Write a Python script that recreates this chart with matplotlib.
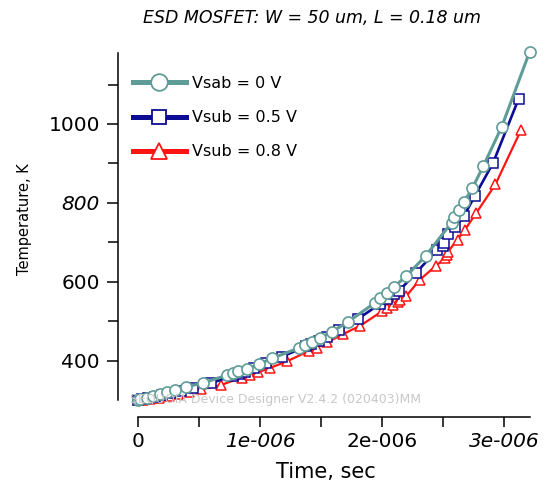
import matplotlib
matplotlib.use("Agg")
import matplotlib.pyplot as plt
from matplotlib.lines import Line2D
import numpy as np

# ---------------- data (time in microseconds, temperature in K) ----------------
t_vsab0 = [0.00, 0.02, 0.07, 0.12, 0.18, 0.24, 0.30, 0.39, 0.53, 0.73, 0.78, 0.82,
           0.89, 0.99, 1.10, 1.32, 1.37, 1.43, 1.49, 1.59, 1.72, 1.94, 1.98, 2.04,
           2.10, 2.20, 2.36, 2.57, 2.59, 2.63, 2.67, 2.74, 2.83, 2.98, 3.21]
T_vsab0 = [300, 302, 305, 310, 315, 320, 325, 333, 343, 363, 368, 373,
           378, 391, 406, 432, 439, 447, 457, 473, 498, 546, 559, 572,
           587, 615, 666, 750, 763, 781, 801, 837, 893, 992, 1183]

t_vsub05 = [0.00, 0.03, 0.08, 0.14, 0.20, 0.27, 0.35, 0.45, 0.60, 0.78, 0.83, 0.88,
            0.95, 1.05, 1.18, 1.38, 1.42, 1.48, 1.55, 1.65, 1.80, 1.98, 2.04, 2.10,
            2.14, 2.28, 2.45, 2.50, 2.51, 2.54, 2.60, 2.67, 2.76, 2.91, 3.12]
T_vsub05 = [300, 302, 304, 308, 312, 317, 323, 331, 343, 362, 367, 372,
            380, 393, 410, 436, 442, 450, 461, 477, 505, 543, 555, 568,
            577, 623, 680, 690, 699, 722, 740, 766, 817, 901, 1064]

t_vsub08 = [0.00, 0.04, 0.10, 0.17, 0.25, 0.33, 0.42, 0.52, 0.68, 0.85, 0.92, 0.98,
            1.08, 1.22, 1.40, 1.47, 1.55, 1.68, 1.82, 2.00, 2.04, 2.09, 2.13, 2.15,
            2.20, 2.31, 2.44, 2.52, 2.53, 2.54, 2.62, 2.68, 2.77, 2.93, 3.14]
T_vsub08 = [300, 301, 303, 306, 310, 315, 320, 327, 338, 357, 364, 370,
            381, 398, 424, 433, 446, 467, 488, 525, 534, 541, 548, 553,
            564, 605, 640, 660, 668, 676, 707, 732, 773, 847, 985]

series_labels = ["Vsab = 0 V", "Vsub = 0.5 V", "Vsub = 0.8 V"]

x_ticks = [0, 1e-6, 2e-6, 3e-6]
x_ticklabels = ["0", "1e-006", "2e-006", "3e-006"]
x_minor = [0.5e-6, 1.5e-6, 2.5e-6]
y_ticks = [400, 600, 800, 1000]
y_ticklabels = ["400", "600", "800", "1000"]
y_minor = [500, 700, 900, 1100]

title = "ESD MOSFET: W = 50 um, L = 0.18 um"
xlabel = "Time, sec"
ylabel = "Temperature, K"
watermark = "SEQUOIA Device Designer V2.4.2 (020403)MM"

# ---------------- style ----------------
plt.rcParams['font.family'] = ['DejaVu Sans']
W, H = 553, 484
fig = plt.figure(figsize=(W / 100, H / 100), dpi=100)

c_teal = '#5f9c98'
c_navy = '#0c0c94'
c_red = '#ff1414'

ax_l, ax_r, ax_t, ax_b = 138, 530, 53, 400
ax = fig.add_axes([ax_l / W, 1 - ax_b / H, (ax_r - ax_l) / W, (ax_b - ax_t) / H])
ax.set_xlim(0, 3.213e-6)
ax.set_ylim(300, 1180)

us = 1e-6
ax.plot(np.array(t_vsub08) * us, T_vsub08, color=c_red, lw=1.6, marker='^', ms=7.5,
        mfc='white', mec=c_red, mew=1.1, clip_on=False, zorder=3)
ax.plot(np.array(t_vsub05) * us, T_vsub05, color=c_navy, lw=1.9, marker='s', ms=7,
        mfc='white', mec=c_navy, mew=1.1, clip_on=False, zorder=4)
ax.plot(np.array(t_vsab0) * us, T_vsab0, color=c_teal, lw=2.2, marker='o', ms=8,
        mfc='white', mec=c_teal, mew=1.2, clip_on=False, zorder=5)

# spines
for s in ['top', 'right']:
    ax.spines[s].set_visible(False)
ax.spines['left'].set_position(('outward', 14.4))
ax.spines['bottom'].set_position(('outward', 12.2))
for s in ['left', 'bottom']:
    ax.spines[s].set_linewidth(1.1)

ax.set_xticks(x_ticks)
ax.set_xticklabels(x_ticklabels)
ax.set_xticks(x_minor, minor=True)
ax.set_yticks(y_ticks)
ax.set_yticklabels(y_ticklabels)
ax.set_yticks(y_minor, minor=True)
ax.tick_params(axis='both', which='major', direction='out', length=8, width=1.1,
               labelsize=14.5, pad=5)
ax.tick_params(axis='both', which='minor', direction='out', length=7, width=1.1)
ax.tick_params(axis='x', which='major', length=7, pad=4)

for lab in ax.get_xticklabels():
    if lab.get_text() in ("1e-006", "3e-006"):
        lab.set_style('italic')
for lab in ax.get_yticklabels():
    if lab.get_text() == "800":
        lab.set_style('italic')

ax.set_xlabel(xlabel, fontsize=15)
ax.xaxis.set_label_coords(0.48, -0.18)
ax.set_ylabel(ylabel, fontsize=10.5)
ax.yaxis.set_label_coords(-0.27, 0.52)

fig.text(312 / W, 1 - 18 / H, title, fontsize=12.5, style='italic',
         ha='center', va='center')

fig.text(130 / W, 1 - 400 / H, watermark, fontsize=9, color='#c8c8c8',
         ha='left', va='center', zorder=0)

handles = [
    Line2D([], [], color=c_teal, lw=3.6, marker='o', ms=12, mfc='white', mec=c_teal, mew=1.3),
    Line2D([], [], color=c_navy, lw=3.6, marker='s', ms=10, mfc='white', mec=c_navy, mew=1.3),
    Line2D([], [], color=c_red, lw=3.6, marker='^', ms=11, mfc='white', mec=c_red, mew=1.3),
]
fig.legend(handles, series_labels, loc='upper left',
           bbox_to_anchor=(133 / W, 1 - 76 / H), frameon=False, fontsize=11.5,
           handlelength=3.3, handletextpad=0.4, labelspacing=1.2,
           borderpad=0, borderaxespad=0, numpoints=1)

fig.savefig('out.png', dpi=100)
